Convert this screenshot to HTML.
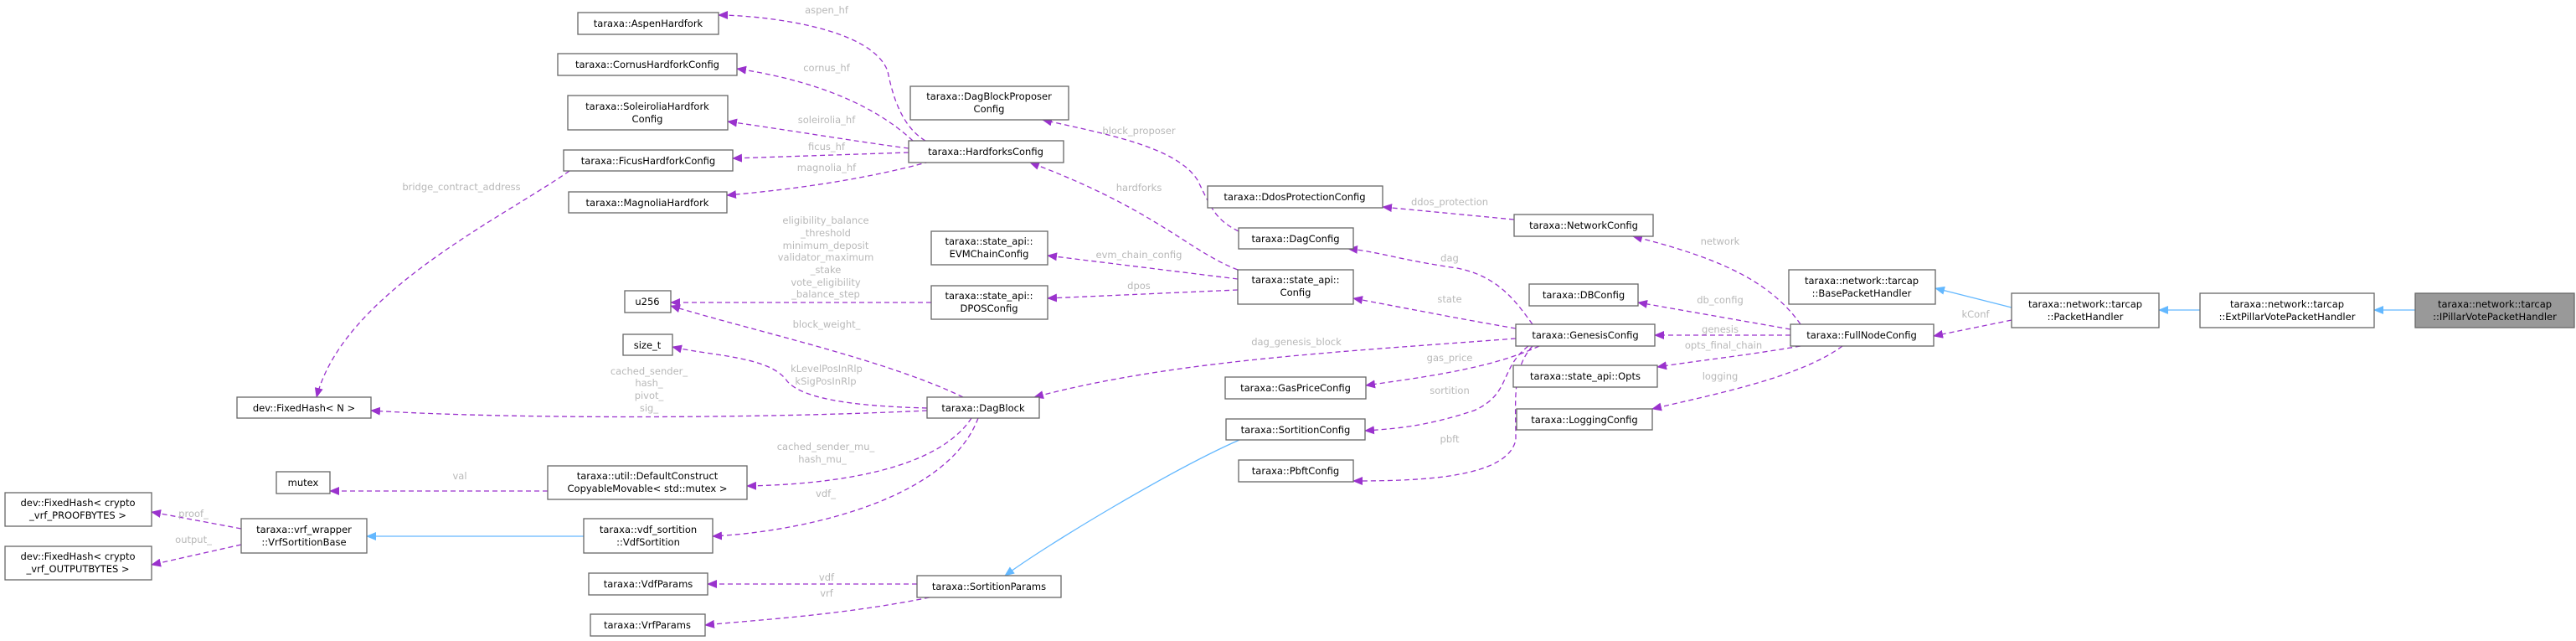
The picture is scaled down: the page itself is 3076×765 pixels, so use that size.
<!DOCTYPE html>
<html><head><meta charset="utf-8"><style>
html,body{margin:0;padding:0;background:#fff;}
svg{display:block;}
.n rect{fill:#fff;stroke:#666;stroke-width:1.3;}
.n text{font-family:"DejaVu Sans","Liberation Sans",sans-serif;font-size:11.5px;fill:#000;text-anchor:middle;}
.l{font-family:"DejaVu Sans","Liberation Sans",sans-serif;font-size:11.5px;fill:#b8b8b8;text-anchor:middle;}
.d{fill:none;stroke:#9a32cd;stroke-width:1.3;stroke-dasharray:6,4;}
.b{fill:none;stroke:#63b8ff;stroke-width:1.3;}
</style></head><body>
<svg width="3076" height="765" viewBox="0 0 3076 765" xmlns="http://www.w3.org/2000/svg">
<defs>
<marker id="mp" markerWidth="12" markerHeight="10" refX="11" refY="5" orient="auto" markerUnits="userSpaceOnUse"><path d="M0,0 L12,5 L0,10 z" fill="#9a32cd"/></marker>
<marker id="mb" markerWidth="12" markerHeight="10" refX="11" refY="5" orient="auto" markerUnits="userSpaceOnUse"><path d="M0,0 L12,5 L0,10 z" fill="#63b8ff"/></marker>
</defs>
<g marker-end="url(#mp)">
<path class="d" d="M1105,168 C1075,150 1065,110 1060,85 C1040,30 900,18 858,18"/>
<path class="d" d="M1090,168 C1060,140 1000,100 880,82"/>
<path class="d" d="M1085,177 C1030,170 940,155 869,145"/>
<path class="d" d="M1085,182 L875,189"/>
<path class="d" d="M1110,193 C1040,212 960,225 868,233"/>
<path class="d" d="M680,204 C600,260 410,350 378,474"/>
<path class="d" d="M1478,322 C1420,300 1380,250 1230,194"/>
<path class="d" d="M1479,276 C1450,262 1445,245 1430,215 C1405,175 1320,160 1245,143"/>
<path class="d" d="M1478,333 L1251,305"/>
<path class="d" d="M1478,346 L1251,356"/>
<path class="d" d="M1112,361 L801,361"/>
<path class="d" d="M1150,474 C1060,430 900,395 801,365"/>
<path class="d" d="M1107,487 C1030,485 960,478 940,455 C920,425 850,425 803,414"/>
<path class="d" d="M1107,490 C900,500 600,500 443,490"/>
<path class="d" d="M1160,499 C1120,560 1000,578 892,580"/>
<path class="d" d="M1168,499 C1130,600 950,635 851,640"/>
<path class="d" d="M654,586 L394,586"/>
<path class="d" d="M288,631 L181,611"/>
<path class="d" d="M288,650 L181,674"/>
<path class="d" d="M1095,697 L845,697"/>
<path class="d" d="M1110,713 C1000,735 900,740 842,746"/>
<path class="d" d="M1830,387 C1810,360 1790,330 1740,320 C1670,310 1645,300 1610,297"/>
<path class="d" d="M1810,392 C1740,380 1680,368 1616,356"/>
<path class="d" d="M1810,404 C1600,420 1400,430 1235,474"/>
<path class="d" d="M1838,413 C1780,440 1700,450 1631,460"/>
<path class="d" d="M1825,413 C1790,440 1805,470 1760,490 C1700,510 1660,512 1630,514"/>
<path class="d" d="M1830,413 C1805,440 1810,480 1810,525 C1800,570 1700,574 1616,574"/>
<path class="d" d="M1808,262 L1651,247"/>
<path class="d" d="M2150,387 C2110,330 2040,305 1950,282"/>
<path class="d" d="M2138,393 L1956,361"/>
<path class="d" d="M2138,400 L1976,400"/>
<path class="d" d="M2150,413 C2080,425 2030,430 1979,438"/>
<path class="d" d="M2200,413 C2150,450 2050,470 1973,488"/>
<path class="d" d="M2402,382 L2309,401"/>
</g>
<g marker-end="url(#mb)">
<path class="b" d="M697,640 L438,640"/>
<path class="b" d="M1480,525 C1400,560 1250,650 1200,687"/>
<path class="b" d="M2402,367 L2311,344"/>
<path class="b" d="M2627,370 L2578,370"/>
<path class="b" d="M2884,370 L2835,370"/>
</g>
<g class="l">
<text x="987" y="16">aspen_hf</text>
<text x="987" y="85">cornus_hf</text>
<text x="987" y="147">soleirolia_hf</text>
<text x="987" y="179">ficus_hf</text>
<text x="987" y="204">magnolia_hf</text>
<text x="551" y="227">bridge_contract_address</text>
<text x="986" y="267">eligibility_balance</text>
<text x="986" y="282">_threshold</text>
<text x="986" y="297">minimum_deposit</text>
<text x="986" y="311">validator_maximum</text>
<text x="986" y="326">_stake</text>
<text x="986" y="341">vote_eligibility</text>
<text x="986" y="355">_balance_step</text>
<text x="987" y="391">block_weight_</text>
<text x="987" y="444">kLevelPosInRlp</text>
<text x="986" y="459">kSigPosInRlp</text>
<text x="775" y="447">cached_sender_</text>
<text x="775" y="461">hash_</text>
<text x="775" y="476">pivot_</text>
<text x="775" y="491">sig_</text>
<text x="986" y="537">cached_sender_mu_</text>
<text x="982" y="552">hash_mu_</text>
<text x="549" y="572">val</text>
<text x="986" y="593">vdf_</text>
<text x="231" y="617">proof_</text>
<text x="231" y="648">output_</text>
<text x="987" y="693">vdf</text>
<text x="987" y="712">vrf</text>
<text x="1360" y="160">block_proposer</text>
<text x="1360" y="228">hardforks</text>
<text x="1360" y="308">evm_chain_config</text>
<text x="1360" y="345">dpos</text>
<text x="1548" y="412">dag_genesis_block</text>
<text x="1731" y="431">gas_price</text>
<text x="1731" y="470">sortition</text>
<text x="1731" y="528">pbft</text>
<text x="1731" y="312">dag</text>
<text x="1731" y="361">state</text>
<text x="1731" y="245">ddos_protection</text>
<text x="2054" y="292">network</text>
<text x="2054" y="362">db_config</text>
<text x="2054" y="397">genesis</text>
<text x="2058" y="416">opts_final_chain</text>
<text x="2054" y="453">logging</text>
<text x="2359" y="379">kConf</text>
</g>
<g class="n">
<rect x="690" y="15" width="168" height="26"/><text x="774" y="32">taraxa::AspenHardfork</text>
<rect x="666" y="64" width="214" height="26"/><text x="773" y="81">taraxa::CornusHardforkConfig</text>
<rect x="678" y="114" width="191" height="41"/><text x="773" y="131">taraxa::SoleiroliaHardfork</text><text x="773" y="146">Config</text>
<rect x="673" y="179" width="202" height="25"/><text x="774" y="196">taraxa::FicusHardforkConfig</text>
<rect x="679" y="229" width="189" height="25"/><text x="773" y="246">taraxa::MagnoliaHardfork</text>
<rect x="746" y="347" width="55" height="26"/><text x="773" y="364">u256</text>
<rect x="744" y="399" width="59" height="25"/><text x="773" y="416">size_t</text>
<rect x="283" y="474" width="160" height="25"/><text x="363" y="491">dev::FixedHash&lt; N &gt;</text>
<rect x="330" y="563" width="64" height="26"/><text x="362" y="580">mutex</text>
<rect x="654" y="556" width="238" height="40"/><text x="773" y="572">taraxa::util::DefaultConstruct</text><text x="773" y="587">CopyableMovable&lt; std::mutex &gt;</text>
<rect x="6" y="588" width="175" height="40"/><text x="93" y="604">dev::FixedHash&lt; crypto</text><text x="93" y="619">_vrf_PROOFBYTES &gt;</text>
<rect x="288" y="619" width="150" height="41"/><text x="363" y="636">taraxa::vrf_wrapper</text><text x="363" y="651">::VrfSortitionBase</text>
<rect x="697" y="619" width="154" height="41"/><text x="774" y="636">taraxa::vdf_sortition</text><text x="774" y="651">::VdfSortition</text>
<rect x="6" y="652" width="175" height="40"/><text x="93" y="668">dev::FixedHash&lt; crypto</text><text x="93" y="683">_vrf_OUTPUTBYTES &gt;</text>
<rect x="703" y="684" width="142" height="26"/><text x="774" y="701">taraxa::VdfParams</text>
<rect x="705" y="733" width="137" height="26"/><text x="773" y="750">taraxa::VrfParams</text>
<rect x="1087" y="103" width="189" height="40"/><text x="1181" y="119">taraxa::DagBlockProposer</text><text x="1181" y="134">Config</text>
<rect x="1085" y="168" width="185" height="26"/><text x="1177" y="185">taraxa::HardforksConfig</text>
<rect x="1112" y="276" width="139" height="40"/><text x="1181" y="292">taraxa::state_api::</text><text x="1181" y="307">EVMChainConfig</text>
<rect x="1112" y="341" width="139" height="40"/><text x="1181" y="357">taraxa::state_api::</text><text x="1181" y="372">DPOSConfig</text>
<rect x="1107" y="474" width="134" height="25"/><text x="1174" y="491">taraxa::DagBlock</text>
<rect x="1095" y="687" width="172" height="26"/><text x="1181" y="704">taraxa::SortitionParams</text>
<rect x="1442" y="222" width="209" height="26"/><text x="1546" y="239">taraxa::DdosProtectionConfig</text>
<rect x="1479" y="272" width="137" height="25"/><text x="1547" y="289">taraxa::DagConfig</text>
<rect x="1478" y="322" width="138" height="41"/><text x="1547" y="338">taraxa::state_api::</text><text x="1547" y="353">Config</text>
<rect x="1463" y="450" width="168" height="26"/><text x="1547" y="467">taraxa::GasPriceConfig</text>
<rect x="1464" y="500" width="166" height="25"/><text x="1547" y="517">taraxa::SortitionConfig</text>
<rect x="1479" y="549" width="137" height="26"/><text x="1547" y="566">taraxa::PbftConfig</text>
<rect x="1808" y="256" width="166" height="26"/><text x="1891" y="273">taraxa::NetworkConfig</text>
<rect x="1826" y="339" width="130" height="26"/><text x="1891" y="356">taraxa::DBConfig</text>
<rect x="1810" y="387" width="166" height="26"/><text x="1893" y="404">taraxa::GenesisConfig</text>
<rect x="1807" y="436" width="172" height="26"/><text x="1893" y="453">taraxa::state_api::Opts</text>
<rect x="1811" y="488" width="162" height="25"/><text x="1892" y="505">taraxa::LoggingConfig</text>
<rect x="2136" y="322" width="175" height="41"/><text x="2223" y="339">taraxa::network::tarcap</text><text x="2223" y="354">::BasePacketHandler</text>
<rect x="2138" y="387" width="171" height="26"/><text x="2223" y="404">taraxa::FullNodeConfig</text>
<rect x="2402" y="350" width="176" height="41"/><text x="2490" y="367">taraxa::network::tarcap</text><text x="2490" y="382">::PacketHandler</text>
<rect x="2627" y="350" width="208" height="41"/><text x="2731" y="367">taraxa::network::tarcap</text><text x="2731" y="382">::ExtPillarVotePacketHandler</text>
<rect x="2884" y="350" width="190" height="41" style="fill:#999"/><text x="2979" y="367">taraxa::network::tarcap</text><text x="2979" y="382">::IPillarVotePacketHandler</text>
</g>
</svg>
</body></html>
